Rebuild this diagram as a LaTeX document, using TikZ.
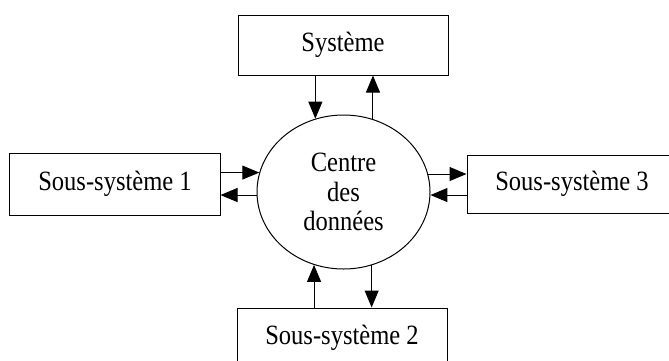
\documentclass[tikz,border=0pt]{standalone}
\usepackage{fontspec}
\setmainfont[FakeStretch=0.88]{Liberation Serif}
\usetikzlibrary{arrows.meta,shapes.geometric}
\begin{document}
\begin{tikzpicture}[x=1bp,y=-1bp,
  box/.style={draw,line width=1bp,minimum width=210bp,inner sep=0pt,font=\fontsize{28}{30}\selectfont},
  centre/.style={draw,ellipse,line width=1bp,minimum width=173bp,minimum height=154bp,inner sep=0pt,align=center,font=\fontsize{28}{30}\selectfont},
  arr/.style={line width=1bp,-{Triangle[length=17bp,width=14bp]}}]
\useasboundingbox (0,0) rectangle (669,360);
\clip (0,0) rectangle (669,360);
\node[box,minimum height=60bp] (sys) at (343,45) {Système};
\node[box,minimum height=62bp] (s1) at (115,184) {Sous-système 1};
\node[box,minimum height=58bp] (s3) at (572,184) {Sous-système 3};
\node[box,minimum height=60bp] (s2) at (342,338) {Sous-système 2};
\node[centre] (cdd) at (343.5,192) {Centre\\des\\données};
% top
\draw[arr] (sys.south -| cdd.111.4) -- (cdd.111.4);
\draw[arr] (cdd.68.6) -- (sys.south -| cdd.68.6);
% left
\draw[arr] (s1.east |- cdd.167.2) -- (cdd.167.2);
\draw[arr] (cdd.182) -- (s1.east |- cdd.182);
% right
\draw[arr] (cdd.12.1) -- (s3.west |- cdd.12.1);
\draw[arr] (s3.west |- cdd.-2.2) -- (cdd.-2.2);
% bottom
\draw[arr] (s2.north -| cdd.248.6) -- (cdd.248.6);
\draw[arr] (cdd.291.4) -- (s2.north -| cdd.291.4);
\end{tikzpicture}
\end{document}
